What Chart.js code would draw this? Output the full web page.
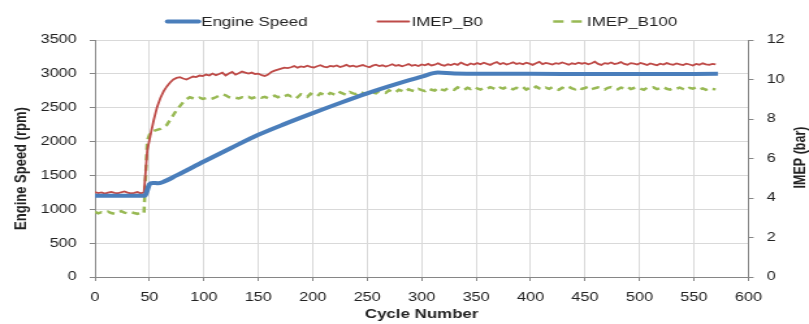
<!DOCTYPE html>
<html>
<head>
<meta charset="utf-8">
<script src="https://cdn.jsdelivr.net/npm/chart.js@4.4.1/dist/chart.umd.min.js"></script>
<style>
  html, body { margin: 0; padding: 0; background: #fff; overflow: hidden; }
  /* the plot is laid out narrow and widened, so the lettering comes out broad */
  #wrap { width: 622px; height: 324px; transform: scaleX(1.3006); transform-origin: 0 0; }
</style>
</head>
<body>
<div id="wrap"><canvas id="chart" width="622" height="324"></canvas></div>
<script>
// Engine speed (rpm) at the cycles where its trace changes course
const speedCycles = [0, 46, 48, 50, 53, 58, 62, 75, 100, 125, 150, 175, 200, 225, 250, 275, 300, 315, 330, 400, 500, 572];
const engineSpeed = [1200, 1200, 1280, 1370, 1390, 1385, 1400, 1500, 1705, 1905, 2100, 2265, 2420, 2570, 2712, 2840, 2958, 3020, 3005, 3000, 2998, 3000];

// IMEP (bar), logged every 3rd cycle from cycle 0 to 570
const imepB0 = [
  4.30, 4.25, 4.28, 4.22, 4.27, 4.31, 4.26, 4.24, 4.29, 4.33, 4.27, 4.23, 4.26, 4.30, 4.24, 4.28,
  6.40, 7.20, 7.95, 8.60, 9.05, 9.40, 9.65, 9.85, 10.00, 10.08, 10.12, 10.05, 10.00, 10.08, 10.15, 10.12,
  10.20, 10.18, 10.25, 10.20, 10.30, 10.22, 10.28, 10.35, 10.20, 10.30, 10.38, 10.25, 10.32, 10.40, 10.35, 10.30,
  10.35, 10.28, 10.30, 10.22, 10.18, 10.25, 10.38, 10.45, 10.50, 10.55, 10.60, 10.58,
  10.62, 10.68, 10.60, 10.66, 10.63, 10.70, 10.64, 10.61, 10.67, 10.72,
  10.65, 10.62, 10.69, 10.66, 10.71, 10.63, 10.68, 10.74, 10.66, 10.70,
  10.64, 10.69, 10.73, 10.67, 10.62, 10.70, 10.75, 10.68, 10.72, 10.66,
  10.71, 10.77, 10.69, 10.73, 10.67, 10.72, 10.78, 10.70, 10.74, 10.68,
  10.76, 10.72, 10.79, 10.71, 10.75, 10.82, 10.74, 10.70, 10.77, 10.73,
  10.80, 10.74, 10.86, 10.78, 10.72, 10.81, 10.76, 10.83, 10.77, 10.85,
  10.79, 10.74, 10.82, 10.88, 10.78, 10.84, 10.76, 10.81, 10.87, 10.79,
  10.83, 10.77, 10.85, 10.80, 10.74, 10.82, 10.89, 10.78, 10.84, 10.80,
  10.76, 10.83, 10.79, 10.86, 10.81, 10.75, 10.82, 10.78, 10.85, 10.80,
  10.84, 10.77, 10.82, 10.90, 10.79, 10.74, 10.83, 10.80, 10.86, 10.78,
  10.82, 10.88, 10.79, 10.75, 10.83, 10.80, 10.76, 10.84, 10.79, 10.73,
  10.81, 10.77, 10.72, 10.80, 10.76, 10.83, 10.78, 10.74, 10.81, 10.77,
  10.73, 10.80, 10.76, 10.71, 10.79, 10.75, 10.82, 10.77, 10.74, 10.79,
  10.76
];
const imepB100 = [
  3.30, 3.22, 3.28, 3.25, 3.31, 3.24, 3.20, 3.27, 3.33, 3.26, 3.22, 3.29, 3.24, 3.20, 3.27, 3.23,
  6.90, 7.35, 7.40, 7.45, 7.50, 7.60, 7.70, 7.95, 8.20, 8.45, 8.65, 8.85, 9.00, 9.10, 9.05, 9.00,
  9.08, 9.02, 9.06, 9.00, 9.04, 9.10, 9.18, 9.25, 9.20, 9.10, 9.05, 9.08, 9.04, 9.10, 9.06, 9.12,
  9.05, 9.10, 9.15, 9.08, 9.12, 9.05, 9.14, 9.18, 9.10, 9.20, 9.15, 9.22,
  9.15, 9.22, 9.10, 9.25, 9.18, 9.12, 9.28, 9.20, 9.15, 9.30,
  9.24, 9.18, 9.32, 9.26, 9.20, 9.35, 9.28, 9.22, 9.36, 9.30,
  9.26, 9.38, 9.32, 9.28, 9.40, 9.34, 9.30, 9.42, 9.36, 9.32,
  9.45, 9.38, 9.34, 9.48, 9.42, 9.36, 9.50, 9.44, 9.40, 9.52,
  9.46, 9.42, 9.55, 9.48, 9.44, 9.58, 9.50, 9.45, 9.56, 9.52,
  9.48, 9.60, 9.53, 9.47, 9.58, 9.52, 9.62, 9.55, 9.49, 9.58,
  9.53, 9.61, 9.55, 9.48, 9.59, 9.54, 9.63, 9.56, 9.50, 9.58,
  9.54, 9.62, 9.49, 9.57, 9.52, 9.64, 9.55, 9.50, 9.59, 9.53,
  9.61, 9.54, 9.48, 9.58, 9.53, 9.63, 9.55, 9.50, 9.60, 9.52,
  9.57, 9.64, 9.51, 9.56, 9.60, 9.53, 9.49, 9.58, 9.62, 9.54,
  9.50, 9.59, 9.55, 9.63, 9.52, 9.57, 9.61, 9.54, 9.48, 9.58,
  9.55, 9.60, 9.51, 9.56, 9.62, 9.53, 9.49, 9.57, 9.54, 9.59,
  9.52, 9.46, 9.58, 9.54, 9.60, 9.50, 9.55, 9.48, 9.57, 9.52,
  9.50
];
const imepCycles = imepB0.map((_, i) => i * 3);

const seriesNames = ['Engine Speed', 'IMEP_B0', 'IMEP_B100'];
const xTitle = 'Cycle Number';
const leftTitle = 'Engine Speed (rpm)';
const rightTitle = 'IMEP (bar)';

const FONT = '"Liberation Sans", Arial, sans-serif';
const AXIS = '#868686';
const GRID = '#d9d9d9';
const TEXT = '#222';

const toPoints = (xs, ys) => xs.map((x, i) => ({ x, y: ys[i] }));

// Line-sample legend centred over the plot area
const lineLegend = {
  id: 'lineLegend',
  afterDraw(chart) {
    const { ctx, chartArea } = chart;
    const sample = 25, gap = 2, spacing = 53, y = 21.5;
    ctx.save();
    ctx.font = '13px ' + FONT;
    const items = chart.data.datasets.map(ds => ({ ds, w: sample + gap + ctx.measureText(ds.label).width }));
    const total = items.reduce((s, it) => s + it.w, 0) + spacing * (items.length - 1);
    let x = (chartArea.left + chartArea.right) / 2 - total / 2;
    items.forEach(({ ds, w }) => {
      ctx.beginPath();
      ctx.strokeStyle = ds.borderColor;
      ctx.lineWidth = ds.borderWidth;
      ctx.lineCap = ds.borderDash ? 'butt' : 'round';
      ctx.setLineDash(ds.borderDash ? [8, 6] : []);
      ctx.moveTo(x + 1, y);
      ctx.lineTo(x + sample, y);
      ctx.stroke();
      ctx.setLineDash([]);
      ctx.fillStyle = TEXT;
      ctx.textBaseline = 'middle';
      ctx.textAlign = 'left';
      ctx.fillText(ds.label, x + sample + gap, y + 0.5);
      x += w + spacing;
    });
    ctx.restore();
  }
};

// Both y titles read bottom-to-top
const yTitles = {
  id: 'yTitles',
  afterDraw(chart) {
    const { ctx, chartArea } = chart;
    const mid = (chartArea.top + chartArea.bottom) / 2;
    ctx.save();
    ctx.fillStyle = TEXT;
    ctx.textAlign = 'center';
    ctx.textBaseline = 'middle';
    [[leftTitle, 16, mid + 10, 13], [rightTitle, chart.width - 6, mid - 1, 12.5]].forEach(([text, x, y, size]) => {
      ctx.save();
      ctx.font = 'bold ' + size + 'px ' + FONT;
      ctx.translate(x, y);
      ctx.rotate(-Math.PI / 2);
      ctx.fillText(text, 0, 0);
      ctx.restore();
    });
    ctx.restore();
  }
};

const tickFont = { family: FONT, size: 12.5 };
const plain = v => String(v);

new Chart(document.getElementById('chart'), {
  type: 'line',
  data: {
    datasets: [
      {
        label: seriesNames[0],
        data: toPoints(speedCycles, engineSpeed),
        yAxisID: 'rpm',
        borderColor: '#4a7ebb',
        borderWidth: 4,
        cubicInterpolationMode: 'monotone',
        pointRadius: 0
      },
      {
        label: seriesNames[1],
        data: toPoints(imepCycles, imepB0),
        yAxisID: 'imep',
        borderColor: '#be4b48',
        borderWidth: 1.8,
        pointRadius: 0
      },
      {
        label: seriesNames[2],
        data: toPoints(imepCycles, imepB100),
        yAxisID: 'imep',
        borderColor: '#98b954',
        borderWidth: 2.5,
        borderDash: [6, 4.5],
        pointRadius: 0
      }
    ]
  },
  options: {
    responsive: false,
    animation: false,
    events: [],
    layout: { padding: { top: 40, left: 0, right: 0, bottom: 0 } },
    plugins: { legend: { display: false }, tooltip: { enabled: false } },
    scales: {
      x: {
        type: 'linear',
        min: 0,
        max: 600,
        ticks: { stepSize: 50, padding: 9, color: TEXT, font: tickFont, maxRotation: 0, autoSkip: false, callback: plain },
        grid: { color: GRID, tickColor: AXIS, tickLength: 4 },
        border: { color: AXIS },
        title: {
          display: true, text: xTitle, color: TEXT, padding: 3.5,
          font: { family: FONT, size: 13, weight: 'bold', lineHeight: 1 }
        },
        afterFit: s => { s.height = 47; }
      },
      rpm: {
        position: 'left',
        min: 0,
        max: 3500,
        ticks: { stepSize: 500, padding: 10, color: TEXT, font: tickFont, callback: plain },
        grid: { color: GRID, tickColor: AXIS, tickLength: 4 },
        border: { color: AXIS },
        afterFit: s => { s.width = 73; }
      },
      imep: {
        position: 'right',
        min: 0,
        max: 12,
        ticks: { stepSize: 2, padding: 10, color: TEXT, font: tickFont, callback: plain },
        grid: { drawOnChartArea: false, tickColor: AXIS, tickLength: 4 },
        border: { color: AXIS },
        afterFit: s => { s.width = 46.6; }
      }
    }
  },
  plugins: [lineLegend, yTitles]
});
</script>
</body>
</html>
